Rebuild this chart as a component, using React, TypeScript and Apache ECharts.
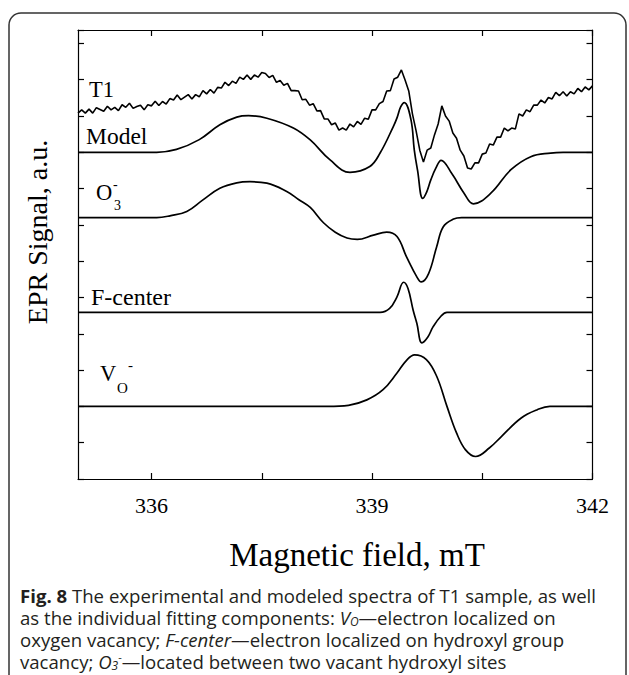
import React, { useEffect, useRef } from "react";
import * as echarts from "echarts";

const SERIF = "'Liberation Serif', 'Times New Roman', serif";
const SANS = "'Open Sans', 'Noto Sans', sans-serif";

// Magnetic field axis, mT
const FIELD_MIN = 335;
const FIELD_MAX = 342;
const FIELD_TICKS = [336, 337.5, 339, 340.5, 342];
const FIELD_LABELS = [336, 339, 342];

// Signal axis (a.u.), one unit per tick
const SIGNAL_MIN = 0;
const SIGNAL_MAX = 12.37;

// Vertical offsets of the stacked spectra, a.u.
const OFFSET_T1 = 10;
const OFFSET_MODEL = 9;
const OFFSET_O3 = 7.2;
const OFFSET_FCENTER = 4.59;
const OFFSET_VO = 2;

// Experimental T1 spectrum, recorded every 0.05 mT starting at 335 mT
const T1_START = 335;
const T1_STEP = 0.05;
const t1Signal = [
  0.08, 0.17, 0.08, 0.19, 0.08, 0.23, 0.18, 0.13, 0.27, 0.17,
  0.24, 0.15, 0.31, 0.24, 0.35, 0.21, 0.26, 0.3, 0.17, 0.31,
  0.28, 0.41, 0.29, 0.4, 0.33, 0.48, 0.44, 0.58, 0.45, 0.52,
  0.59, 0.47, 0.59, 0.53, 0.7, 0.61, 0.73, 0.63, 0.79, 0.77,
  0.93, 0.84, 0.96, 0.9, 1.07, 1.01, 1.13, 1.01, 1.13, 1.07,
  1.2, 1.17, 1.06, 1.12, 0.93, 0.98, 0.85, 0.9, 0.7, 0.7,
  0.69, 0.45, 0.46, 0.3, 0.34, 0.14, 0.15, -0.08, -0.08, -0.24,
  -0.19, -0.39, -0.33, -0.39, -0.22, -0.3, -0.15, -0.23, -0.06, -0.09,
  0.17, 0.17, 0.34, 0.4, 0.69, 0.7, 1.02, 1.07, 1.27, 0.99,
  0.69, 0.06, -0.41, -0.94, -1.27, -0.94, -0.88, -0.52, -0.22, 0.28,
  0, -0.14, -0.47, -0.61, -0.94, -1.1, -1.43, -1.46, -1.29, -1.29,
  -1.05, -1.02, -0.77, -0.8, -0.58, -0.58, -0.33, -0.41, -0.33, -0.36,
  0.06, 0, 0.17, 0.12, 0.3, 0.3, 0.44, 0.36, 0.51, 0.47,
  0.65, 0.56, 0.67, 0.55, 0.67, 0.61, 0.76, 0.67, 0.8, 0.72,
  0.83,
];

// Simulated total spectrum (Model)
const modelField = [
  335, 335.9, 336.07, 336.34, 336.65, 336.93, 337.16, 337.32, 337.57, 337.93,
  338.16, 338.43, 338.7, 338.97, 339.11, 339.29, 339.34, 339.39, 339.44, 339.53,
  339.575, 339.62, 339.69, 339.745, 339.8, 339.87, 339.94, 340.09, 340.25, 340.38,
  340.62, 340.89, 341.16, 341.43, 341.6, 342,
];
const modelSignal = [
  0, 0, 0, 0.08, 0.35, 0.76, 0.97, 1.01, 0.94, 0.67,
  0.34, -0.21, -0.55, -0.39, -0.02, 0.71, 0.95, 1.25, 1.37, 0.9,
  0.07, -0.5, -1.27, -1.09, -0.76, -0.43, -0.22, -0.6, -1.12, -1.42,
  -1.12, -0.48, -0.12, -0.02, 0, 0,
];

// O3- component
const o3Field = [
  335, 335.9, 336.07, 336.25, 336.48, 336.7, 336.93, 337.16, 337.34, 337.57,
  337.84, 338.0, 338.16, 338.34, 338.5, 338.66, 338.8, 339.02, 339.2, 339.34,
  339.47, 339.61, 339.67, 339.77, 339.88, 339.97, 340.11, 340.22, 340.4, 342,
];
const o3Signal = [
  0, 0, 0, 0.05, 0.17, 0.49, 0.81, 0.96, 0.99, 0.95,
  0.72, 0.5, 0.28, -0.14, -0.4, -0.56, -0.6, -0.48, -0.4, -0.52,
  -1.08, -1.63, -1.77, -1.54, -0.8, -0.25, -0.04, 0, 0, 0,
];

// F-center component
const fCenterField = [
  335, 339.0, 339.11, 339.24, 339.34, 339.43, 339.49, 339.56, 339.61, 339.68,
  339.76, 339.83, 339.94, 340.02, 340.15, 342,
];
const fCenterSignal = [
  0, 0, 0, 0.11, 0.43, 0.83, 0.66, 0.06, -0.3, -0.84,
  -0.68, -0.4, -0.1, 0, 0, 0,
];

// VO- component
const voField = [
  335, 338.2, 338.4, 338.68, 338.93, 339.15, 339.34, 339.47, 339.58, 339.74,
  339.88, 340.02, 340.15, 340.27, 340.41, 340.6, 340.76, 341.03, 341.25, 341.42,
  341.6, 342,
];
const voSignal = [
  0, 0, 0, 0.03, 0.18, 0.46, 0.92, 1.27, 1.42, 1.29,
  0.83, 0, -0.73, -1.19, -1.38, -1.14, -0.83, -0.32, -0.09, 0,
  0, 0,
];

const stack = (field: number[], signal: number[], offset: number) =>
  field.map((b, i) => [b, +(offset + signal[i]).toFixed(3)]);

const t1Data = t1Signal.map((v, i) => [
  +(T1_START + i * T1_STEP).toFixed(2),
  +(OFFSET_T1 + v).toFixed(3),
]);

const BLACK = "#000";
const CAPTION_COLOR = "#231f20";
const CAPTION_SIZE = 18.6;
const CAPTION_LINE = 20;

export default function App() {
  const ref = useRef<HTMLDivElement | null>(null);

  useEffect(() => {
    if (!ref.current) return;
    const chart = echarts.init(ref.current, undefined, { renderer: "svg" });

    const axisLine = { show: true, onZero: false, lineStyle: { color: BLACK, width: 1.2 } };
    const fieldTick = {
      show: true,
      inside: true,
      length: 6,
      customValues: FIELD_TICKS,
      lineStyle: { color: BLACK, width: 1.2 },
    };
    const signalTick = {
      show: true,
      inside: true,
      length: 6,
      lineStyle: { color: BLACK, width: 1.2 },
    };

    const curve = (name: string, data: number[][], smooth: boolean | number, width: number) => ({
      name,
      type: "line",
      data,
      showSymbol: false,
      symbol: "none",
      smooth,
      silent: true,
      lineStyle: { color: BLACK, width },
    });

    const label = (text: string, x: number, y: number, size: number) => ({
      type: "text",
      x,
      y,
      silent: true,
      style: {
        text,
        fontFamily: SERIF,
        fontSize: size,
        lineHeight: size,
        fill: BLACK,
        align: "left",
        verticalAlign: "middle",
      },
    });

    const caption = (text: string, y: number) => ({
      type: "text",
      x: 20,
      y,
      silent: true,
      style: {
        text,
        fontFamily: SANS,
        fontSize: CAPTION_SIZE,
        lineHeight: CAPTION_LINE,
        fill: CAPTION_COLOR,
        align: "left",
        verticalAlign: "middle",
        rich: {
          b: {
            fontFamily: SANS,
            fontSize: CAPTION_SIZE,
            lineHeight: CAPTION_LINE,
            fontWeight: "bold",
            fill: CAPTION_COLOR,
          },
          i: {
            fontFamily: SANS,
            fontSize: CAPTION_SIZE,
            lineHeight: CAPTION_LINE,
            fontStyle: "italic",
            fill: CAPTION_COLOR,
          },
          sub: {
            fontFamily: SANS,
            fontSize: 12,
            lineHeight: 12,
            fontStyle: "italic",
            fill: CAPTION_COLOR,
            verticalAlign: "bottom",
          },
          sup: {
            fontFamily: SANS,
            fontSize: 11,
            lineHeight: 11,
            fill: CAPTION_COLOR,
            verticalAlign: "top",
          },
        },
      },
    });

    chart.setOption({
      animation: false,
      backgroundColor: "#fff",
      grid: { left: 78, right: 36.5, top: 30, bottom: 196 },
      xAxis: [
        {
          type: "value",
          min: FIELD_MIN,
          max: FIELD_MAX,
          position: "bottom",
          axisLine,
          axisTick: fieldTick,
          axisLabel: {
            customValues: FIELD_LABELS,
            color: BLACK,
            fontFamily: SERIF,
            fontSize: 22,
            margin: 15,
          },
          splitLine: { show: false },
        },
        {
          type: "value",
          min: FIELD_MIN,
          max: FIELD_MAX,
          position: "top",
          axisLine,
          axisTick: fieldTick,
          axisLabel: { show: false },
          splitLine: { show: false },
        },
      ],
      yAxis: [
        {
          type: "value",
          min: SIGNAL_MIN,
          max: SIGNAL_MAX,
          interval: 1,
          position: "left",
          axisLine,
          axisTick: signalTick,
          axisLabel: { show: false },
          splitLine: { show: false },
        },
        {
          type: "value",
          min: SIGNAL_MIN,
          max: SIGNAL_MAX,
          interval: 1,
          position: "right",
          axisLine,
          axisTick: signalTick,
          axisLabel: { show: false },
          splitLine: { show: false },
        },
      ],
      series: [
        curve("T1", t1Data, false, 1.6),
        curve("Model", stack(modelField, modelSignal, OFFSET_MODEL), 0.4, 1.7),
        curve("O3-", stack(o3Field, o3Signal, OFFSET_O3), 0.4, 1.7),
        curve("F-center", stack(fCenterField, fCenterSignal, OFFSET_FCENTER), 0.4, 1.7),
        curve("VO-", stack(voField, voSignal, OFFSET_VO), 0.4, 1.7),
      ],
      graphic: [
        {
          type: "rect",
          silent: true,
          shape: { x: 9, y: 13, width: 617, height: 720, r: 12 },
          style: { fill: "none", stroke: "#333", lineWidth: 1.5 },
        },
        label("T1", 89, 89, 22.5),
        label("Model", 86, 136, 23.5),
        label("O", 96, 192, 22.5),
        label("3", 114, 205, 14),
        label("-", 113, 184, 14),
        label("F-center", 91, 297, 24),
        label("V", 100, 373, 22.5),
        label("O", 117, 388, 15),
        label("-", 128, 365, 15),
        {
          type: "text",
          x: 37,
          y: 232,
          rotation: Math.PI / 2,
          silent: true,
          style: {
            text: "EPR Signal, a.u.",
            fontFamily: SERIF,
            fontSize: 28,
            lineHeight: 28,
            fill: BLACK,
            align: "center",
            verticalAlign: "middle",
          },
        },
        {
          type: "text",
          x: 357,
          y: 555,
          silent: true,
          style: {
            text: "Magnetic field, mT",
            fontFamily: SERIF,
            fontSize: 33,
            lineHeight: 33,
            fill: BLACK,
            align: "center",
            verticalAlign: "middle",
          },
        },
        caption("{b|Fig. 8} The experimental and modeled spectra of T1 sample, as well", 595),
        caption("as the individual fitting components: {i|V}{sub|O}—electron localized on", 617),
        caption("oxygen vacancy; {i|F-center}—electron localized on hydroxyl group", 639),
        caption("vacancy; {i|O}{sub|3}{sup|-}—located between two vacant hydroxyl sites", 661),
      ],
    });

    return () => chart.dispose();
  }, []);

  return (
    <div
      ref={ref}
      style={{ position: "absolute", left: 0, top: 0, width: 629, height: 675 }}
    />
  );
}
